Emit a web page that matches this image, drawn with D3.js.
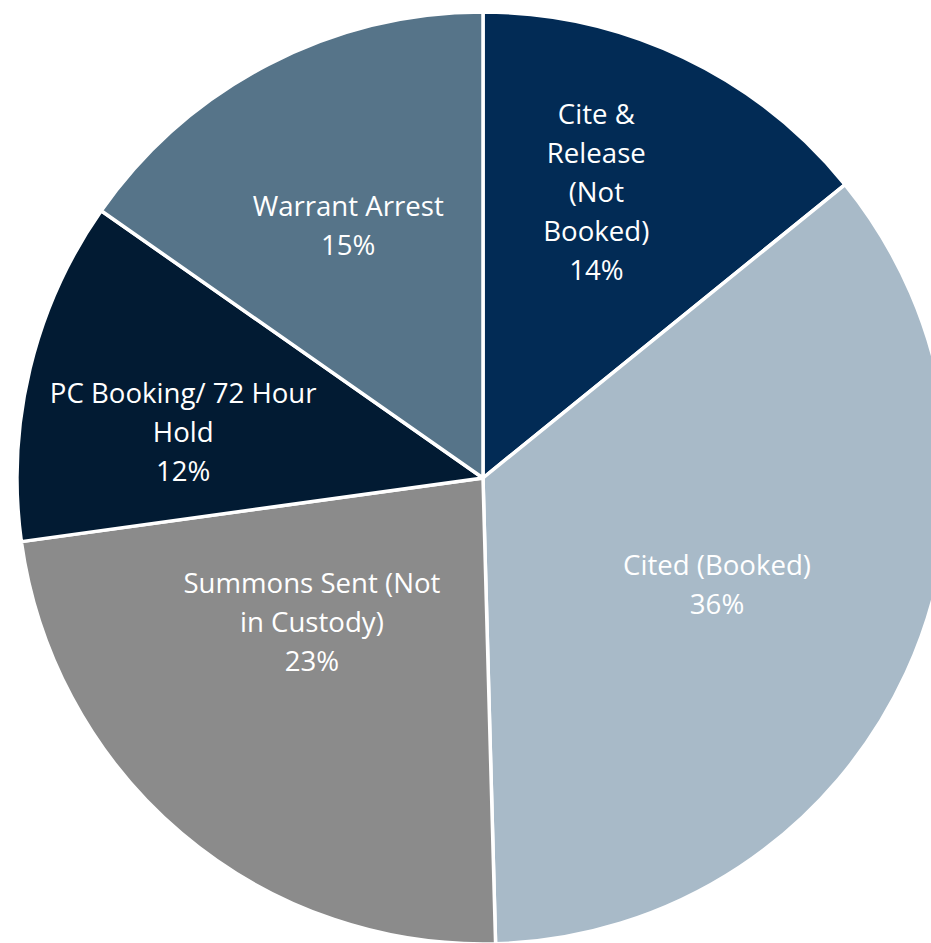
<!DOCTYPE html>
<html>
<head>
<meta charset="utf-8">
<script src="https://cdn.jsdelivr.net/npm/d3@7"></script>
<style>
  html, body { margin: 0; padding: 0; background: #ffffff; }
  svg { display: block; }
</style>
</head>
<body>
<svg id="chart" width="931" height="943"></svg>
<script>
// ---- Data ----
const categories = ["Cite & Release (Not Booked)", "Cited (Booked)", "Summons Sent (Not in Custody)", "PC Booking/ 72 Hour Hold", "Warrant Arrest"];
const labelLines = [
  ["Cite &", "Release", "(Not", "Booked)"],
  ["Cited (Booked)"],
  ["Summons Sent (Not", "in Custody)"],
  ["PC Booking/ 72 Hour", "Hold"],
  ["Warrant Arrest"]
];
const values = [14.16, 35.41, 23.25, 11.90, 15.28];
const percentLabels = ["14%", "36%", "23%", "12%", "15%"];
const colors = ["#022b55", "#a8bac8", "#8b8b8b", "#021b33", "#567489"];

// ---- Layout (not data) ----
const W = 931, H = 943;
const cx = 483, cy = 478, R = 466;
// label placement: radius fraction & angular nudge (degrees) from slice mid-angle
const labelRadiusFrac = [0.661, 0.552, 0.480, 0.651, 0.614];
const labelAngleNudge = [-3.9, -0.2, 9.6, -4.8, -0.6];
const fontSize = 27.6, lineH = 39;

const svg = d3.select("#chart");
const g = svg.append("g").attr("transform", `translate(${cx},${cy})`);

const pie = d3.pie().sort(null).value(d => d.value);
const data = categories.map((c, i) => ({ cat: c, value: values[i], i }));
const arcs = pie(data);
const arc = d3.arc().innerRadius(0).outerRadius(R);

g.selectAll("path.slice")
  .data(arcs)
  .join("path")
  .attr("class", "slice")
  .attr("d", arc)
  .attr("fill", d => colors[d.data.i])
  .attr("stroke", "#ffffff")
  .attr("stroke-width", 3.5)
  .attr("stroke-linejoin", "round");

const labels = g.selectAll("text.lbl")
  .data(arcs)
  .join("text")
  .attr("class", "lbl")
  .attr("text-anchor", "middle")
  .attr("fill", "#ffffff")
  .style("font-family", "'Open Sans', Lato, sans-serif")
  .style("font-size", fontSize + "px")
  .each(function(d) {
    const i = d.data.i;
    const mid = (d.startAngle + d.endAngle) / 2 + labelAngleNudge[i] * Math.PI / 180;
    const rr = R * labelRadiusFrac[i];
    const la = d3.arc().innerRadius(rr).outerRadius(rr).startAngle(mid).endAngle(mid);
    const [px, py] = la.centroid();
    const lines = labelLines[i].concat([percentLabels[i]]);
    const n = lines.length;
    const first = py - (n - 1) * lineH / 2 + 10;
    const t = d3.select(this);
    lines.forEach((s, k) => {
      t.append("tspan").attr("x", px).attr("y", first + k * lineH).text(s);
    });
  });
</script>
</body>
</html>
